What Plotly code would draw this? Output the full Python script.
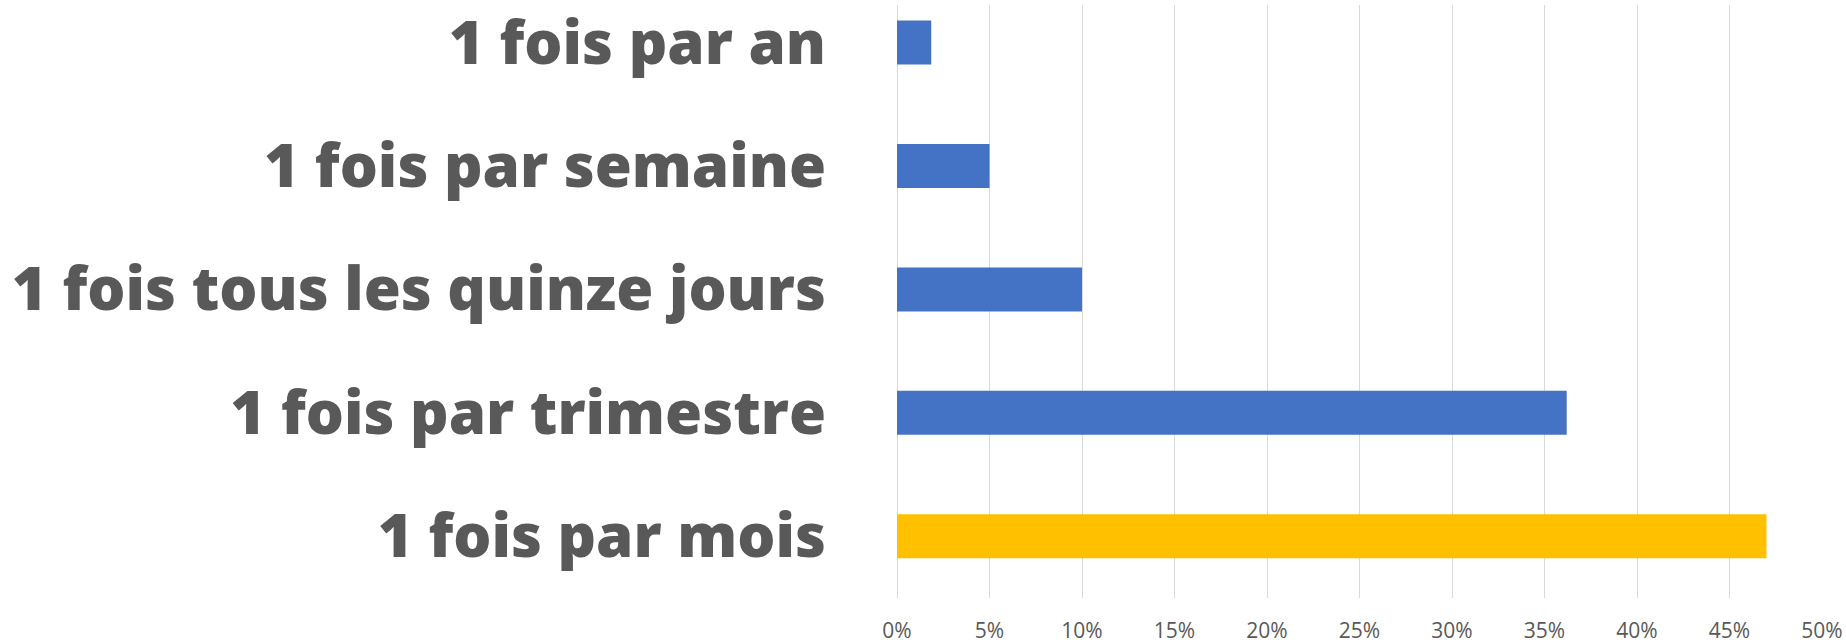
import plotly.graph_objects as go

# Survey answers, listed top to bottom as displayed
categories = [
    "1 fois par an",
    "1 fois par semaine",
    "1 fois tous les quinze jours",
    "1 fois par trimestre",
    "1 fois par mois",
]
shares = [0.0185, 0.05, 0.10, 0.362, 0.47]
bar_colors = ["#4472C4", "#4472C4", "#4472C4", "#4472C4", "#FFC000"]

x_ticks = [0, 0.05, 0.10, 0.15, 0.20, 0.25, 0.30, 0.35, 0.40, 0.45, 0.50]

fig = go.Figure(
    go.Bar(
        x=shares,
        y=categories,
        orientation="h",
        width=0.356,
        marker=dict(color=bar_colors, line=dict(width=0)),
        hoverinfo="skip",
    )
)

fig.update_layout(
    width=1846,
    height=644,
    margin=dict(l=897, r=24, t=0, b=44),
    paper_bgcolor="white",
    plot_bgcolor="white",
    showlegend=False,
    xaxis=dict(
        range=[0, 0.5],
        tickvals=x_ticks,
        tickformat=".0%",
        showgrid=True,
        gridcolor="#D9D9D9",
        gridwidth=1.3,
        zeroline=True,
        zerolinecolor="#D9D9D9",
        zerolinewidth=1.3,
        showline=False,
        ticks="",
        ticklabelstandoff=18,
        tickfont=dict(family="Open Sans", size=21, color="#595959"),
    ),
    yaxis=dict(
        categoryorder="array",
        categoryarray=list(reversed(categories)),
        range=[-0.5, 4.304],
        showgrid=False,
        zeroline=False,
        showline=False,
        ticks="",
        ticklabelstandoff=70,
        tickfont=dict(family="Open Sans", size=60, color="#595959", weight=800),
    ),
)

fig.write_html("out.html")
